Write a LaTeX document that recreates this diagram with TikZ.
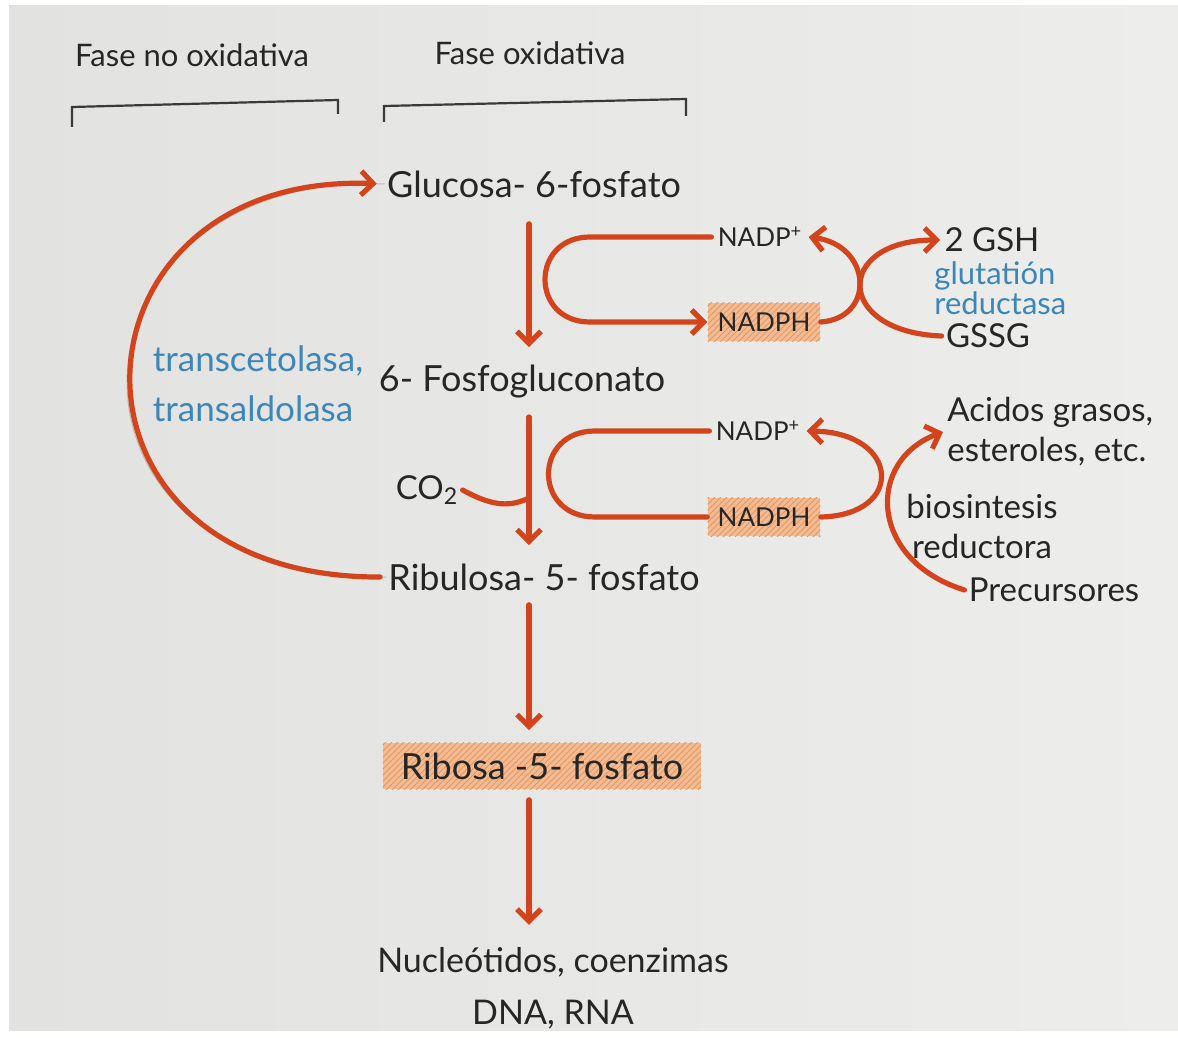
\documentclass[tikz,border=0pt]{standalone}
\usepackage{fontspec}
\setmainfont{Lato}
\usetikzlibrary{arrows.meta,patterns,calc}
\definecolor{paperL}{HTML}{E2E3E1}
\definecolor{paperR}{HTML}{EDEEEC}
\definecolor{flowc}{HTML}{D4441C}
\definecolor{hl}{HTML}{F4BB92}
\definecolor{hld}{HTML}{E9955E}
\definecolor{enz}{HTML}{3C86B8}
\definecolor{ink}{HTML}{262626}
\definecolor{pencil}{HTML}{3A3A3A}
\begin{document}
\begin{tikzpicture}[x=0.5pt,y=-0.5pt,
  lab/.style={text=ink,inner sep=1pt,font=\fontsize{18}{21}\selectfont},
  small/.style={text=ink,inner sep=3pt,font=\fontsize{13}{15}\selectfont},
  side/.style={text=ink,inner sep=2pt,font=\fontsize{16.5}{20}\selectfont},
  head/.style={text=ink,inner sep=2pt,font=\fontsize{15.5}{19}\selectfont},
  enzyme/.style={text=enz,inner sep=0pt,font=\fontsize{15.5}{14}\selectfont},
  hlbox/.style={preaction={fill=hl},pattern=north east lines,pattern color=hld,inner sep=5pt},
  flow/.style={draw=flowc,line width=2.6pt,line cap=round},
  tip/.style={-{Straight Barb[length=6pt,width=12pt]}},
  bracket/.style={draw=pencil,line width=1.1pt}]
\useasboundingbox (0,0) rectangle (1178,1038);
\fill[white] (0,0) rectangle (1178,1038);
\shade[left color=paperL,right color=paperR] (9,6) rectangle (1178,1030);

% headers and brackets
\node[head] (hdr1) at (192,55) {Fase no oxidativa};
\node[head] (hdr2) at (530,53) {Fase oxidativa};
\draw[bracket] (72,127) -- (72,107) -- (338,100) -- (338,114);
\draw[bracket] (384,122) -- (384,106) -- (686,99) -- (686,116);

% main compounds
\coordinate (ax) at (529,0);
\node[lab] (glucosa) at (534,184) {Glucosa- 6-fosfato};
\node[lab] (fosfo) at (522,382) {6- Fosfogluconato};
\node[lab] (ribulosa) at (544,577) {Ribulosa- 5- fosfato};
\node[lab,hlbox,inner xsep=9pt] (ribosa) at (542,766) {Ribosa -5- fosfato};
\node[lab,font=\fontsize{17}{20}\selectfont] (nucleo) at (553,962) {Nucleótidos, coenzimas};
\node[lab,font=\fontsize{17}{20}\selectfont] (dna) at (553,1015) {DNA, RNA};

% first cofactor cycle
\node[small] (nadp1) at (760,237) {NADP\textsuperscript{+}};
\node[small,hlbox] (nadph1) at (764,322) {NADPH};
\node[side] (gsh) at (992,240) {2 GSH};
\node[enzyme,align=left,anchor=west] (enz1) at (934,288) {glutatión\\reductasa};
\node[side] (gssg) at (988,336) {GSSG};

% second cofactor cycle
\node[small] (nadp2) at (758,431) {NADP\textsuperscript{+}};
\node[small,hlbox] (nadph2) at (764,517) {NADPH};
\node[side,align=left,anchor=west] (acidos) at (943,432) {Acidos grasos,\\esteroles, etc.};
\node[side,align=center] (bio) at (982,526) {biosintesis\\reductora};
\node[side] (prec) at (1054,590) {Precursores};
\node[side] (co2) at (427,490) {CO\textsubscript{2}};
\coordinate (co2join) at (529,498);

% enzymes of non-oxidative phase
\node[enzyme,align=left,font=\fontsize{17.5}{25}\selectfont] (trans) at (258,384) {transcetolasa,\\transaldolasa};

% main vertical arrows
\draw[flow,tip,shorten <=12pt,shorten >=8pt] (glucosa.south -| ax) -- (fosfo.north -| ax);
\draw[flow,tip,shorten <=8pt,shorten >=8pt] (fosfo.south -| ax) -- (ribulosa.north -| ax);
\draw[flow,tip,shorten <=6pt,shorten >=6pt] (ribulosa.south -| ax) -- (ribosa.north -| ax);
\draw[flow,tip,shorten <=5pt,shorten >=10pt] (ribosa.south -| ax) -- (nucleo.north -| ax);

% cofactor loops
\draw[flow,tip] (nadp1.west) -- (590,237) .. controls (530,237) and (530,322) .. (590,322) -- (nadph1.west);
\draw[flow,tip] (nadph1.east) .. controls (876,318) and (872,245) .. (nadp1.east);
\draw[flow,tip] (gssg.west) .. controls (834,332) and (834,240) .. (gsh.west);

\draw[flow] (nadp2.west) -- (595,431) .. controls (533,431) and (533,517) .. (595,517) -- (nadph2.west);
\draw[flow,tip] (nadph2.east) .. controls (906,515) and (900,432) .. (nadp2.east);
\draw[flow,tip] (prec.west) .. controls (868,560) and (866,460) .. (acidos.west);
\draw[flow] (co2.east) .. controls (495,508) and (512,506) .. (co2join);

% recycling arc
\draw[gray!55,line width=0.5pt] (ribulosa.west) .. controls (30,582) and (52,172) .. (glucosa.west);
\draw[flow,tip,shorten <=3pt,shorten >=4pt] (ribulosa.west) .. controls (38,578) and (58,172) .. (glucosa.west);
\end{tikzpicture}
\end{document}
